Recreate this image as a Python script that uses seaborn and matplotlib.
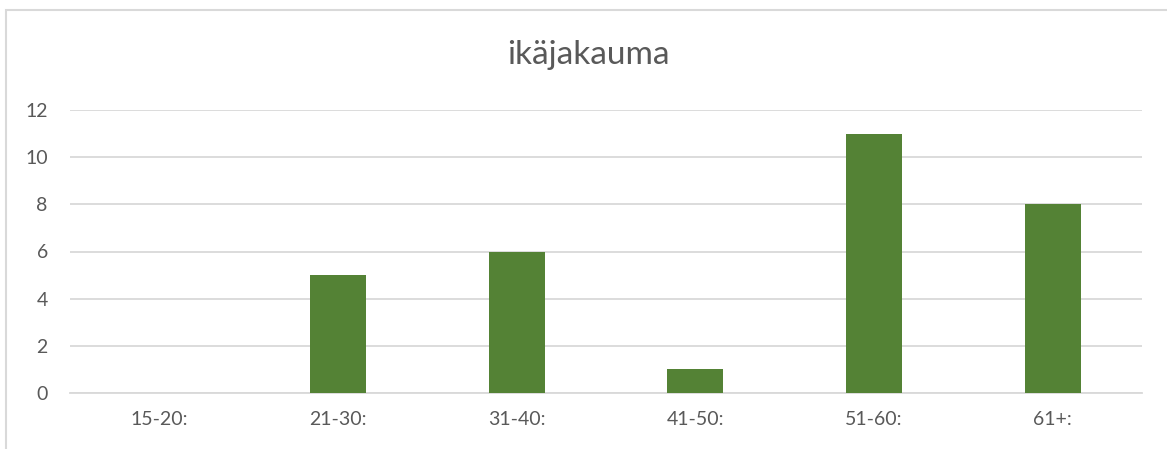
import matplotlib
matplotlib.use("Agg")
import matplotlib.pyplot as plt
import matplotlib.patches as patches
import seaborn as sns
import pandas as pd

ikaryhmat = ["15-20:", "21-30:", "31-40:", "41-50:", "51-60:", "61+:"]
maarat = [0, 5, 6, 1, 11, 8]

df = pd.DataFrame({"ryhma": ikaryhmat, "maara": maarat})

sns.set_theme(style="white")
plt.rcParams["font.family"] = ["Lato", "DejaVu Sans"]

fig = plt.figure(figsize=(11.67, 4.49), dpi=100)
ax = fig.add_axes([70 / 1167, 1 - 393 / 449, 1072 / 1167, 283 / 449])

sns.barplot(data=df, x="ryhma", y="maara", color="#548235", width=0.313,
            saturation=1, linewidth=0, ax=ax, zorder=3)

ax.set_ylim(0, 12)
ax.set_yticks(range(0, 13, 2))
ax.set_xlim(-0.5, len(ikaryhmat) - 0.5)
ax.yaxis.grid(True, color="#d9d9d9", linewidth=1.3, zorder=0)
ax.set_axisbelow(True)
for s in ax.spines.values():
    s.set_visible(False)
ax.spines["bottom"].set_visible(True)
ax.spines["bottom"].set_color("#d9d9d9")
ax.spines["bottom"].set_linewidth(1.3)
ax.set_xlabel("")
ax.set_ylabel("")
ax.tick_params(axis="both", length=0, labelsize=14, labelcolor="#595959")
ax.tick_params(axis="x", pad=13)
ax.tick_params(axis="y", pad=16)

fig.text(0.504, 1 - 55 / 449, "ikäjakauma", ha="center", va="center",
         fontsize=24, color="#595959")

# kehys
fig.patches.append(patches.Rectangle((6 / 1167, -0.1), 1.2, 1 - 10 / 449 + 0.1,
                                     transform=fig.transFigure, fill=False,
                                     edgecolor="#d9d9d9", linewidth=1.5))

fig.savefig("out.png", dpi=100)
